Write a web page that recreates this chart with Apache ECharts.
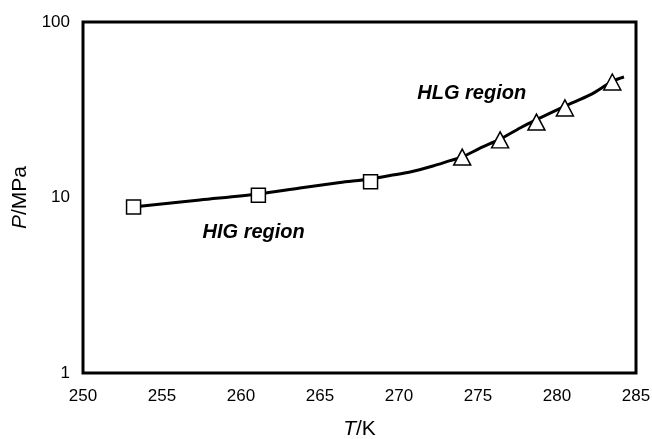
<!DOCTYPE html>
<html><head><meta charset="utf-8">
<script src="https://cdn.jsdelivr.net/npm/echarts@6/dist/echarts.min.js"></script>
<style>html,body{margin:0;padding:0;background:#fff}#c{width:652px;height:439px}</style>
</head><body><div id="c"></div>
<script>
// Fitted curve (T/K, P/MPa)
var curveT = [253.16, 257.4, 261.08, 263.73, 266.27, 268.16, 269.43, 270.7, 272.15, 273.23, 273.99, 275.13, 276.39, 277.66, 278.67, 280.51, 282.09, 283.54, 284.24];
var curveP = [8.83, 9.68, 10.47, 11.33, 12.17, 12.75, 13.35, 13.97, 15.12, 16.21, 17.0, 19.1, 21.5, 24.9, 27.7, 33.2, 38.4, 46.1, 48.6];
// HIG region data (squares)
var higT = [253.2, 261.1, 268.2];
var higP = [8.83, 10.3, 12.3];
// HLG region data (triangles)
var hlgT = [274.0, 276.4, 278.7, 280.5, 283.5];
var hlgP = [17.0, 21.3, 26.9, 32.4, 45.5];
// Annotations
var noteText = ['HLG region', 'HIG region'];
var noteT = [274.6, 260.8];
var noteP = [39.4, 6.36];

function zip(a, b) { return a.map(function (v, i) { return [v, b[i]]; }); }

var chart = echarts.init(document.getElementById('c'));
var font = 'Liberation Sans, Arial, sans-serif';
chart.setOption({
  animation: false,
  backgroundColor: '#fff',
  grid: { left: 83, right: 16, top: 22, bottom: 66, show: true, borderColor: '#000', borderWidth: 3, backgroundColor: 'transparent', containLabel: false, outerBoundsMode: 'none' },
  xAxis: {
    type: 'value', min: 250, max: 285, interval: 5,
    axisLine: { show: false }, axisTick: { show: false }, splitLine: { show: false },
    axisLabel: { color: '#000', fontSize: 17, fontFamily: font, margin: 15 },
    name: '{i|T}/K', nameLocation: 'middle', nameGap: 46,
    nameTextStyle: { color: '#000', fontSize: 21, fontFamily: font, rich: { i: { fontStyle: 'italic', fontSize: 21, fontFamily: font, color: '#000' } } }
  },
  yAxis: {
    type: 'log', logBase: 10, min: 1, max: 100,
    axisLine: { show: false }, axisTick: { show: false }, splitLine: { show: false }, minorTick: { show: false },
    axisLabel: { color: '#000', fontSize: 17, fontFamily: font, margin: 13 },
    name: '{i|P}/MPa', nameLocation: 'middle', nameGap: 52, nameRotate: 90,
    nameTextStyle: { color: '#000', fontSize: 21, fontFamily: font, rich: { i: { fontStyle: 'italic', fontSize: 21, fontFamily: font, color: '#000' } } }
  },
  series: [
    { type: 'line', data: zip(curveT, curveP), smooth: 0.3, showSymbol: false, lineStyle: { color: '#000', width: 3 }, z: 2 },
    { type: 'scatter', data: zip(higT, higP), symbol: 'rect', symbolSize: 14, itemStyle: { color: '#fff', borderColor: '#000', borderWidth: 1.5, opacity: 1 }, z: 3 },
    { type: 'scatter', data: zip(hlgT, hlgP), symbol: 'triangle', symbolSize: [17, 16], itemStyle: { color: '#fff', borderColor: '#000', borderWidth: 1.5, opacity: 1 }, z: 3 },
    { type: 'scatter', symbolSize: 0, silent: true, z: 4, itemStyle: { opacity: 1, color: '#000' },
      data: noteText.map(function (t, i) { return { value: [noteT[i], noteP[i]], name: t }; }),
      label: { show: true, position: 'inside', formatter: '{b}', color: '#000', opacity: 1, textBorderWidth: 0, fontSize: 20, fontWeight: 'bold', fontStyle: 'italic', fontFamily: font } }
  ]
});
</script></body></html>
